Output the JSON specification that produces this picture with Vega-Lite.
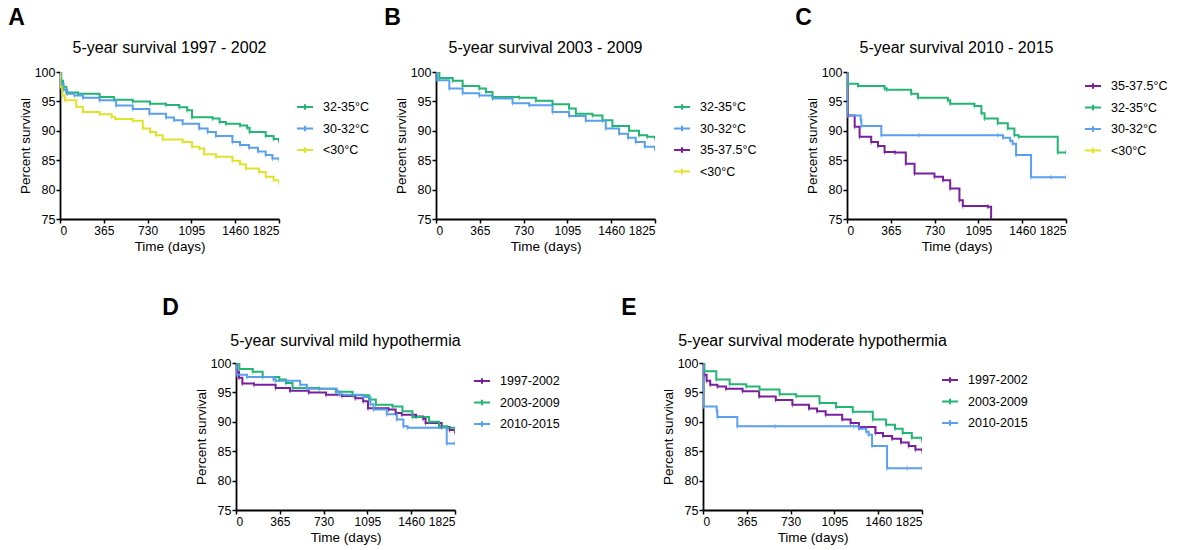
{
  "$schema": "https://vega.github.io/schema/vega-lite/v6.json",
  "padding": {"left": 8, "top": 7, "right": 2, "bottom": 2},
  "background": "white",
  "datasets": {
    "km": [
      {"period": "1997-2002", "group": "32-35°C", "t": 0, "s": 100},
      {"period": "1997-2002", "group": "32-35°C", "t": 10, "s": 98.5},
      {"period": "1997-2002", "group": "32-35°C", "t": 25, "s": 97.5},
      {"period": "1997-2002", "group": "32-35°C", "t": 53, "s": 96.5},
      {"period": "1997-2002", "group": "32-35°C", "t": 150, "s": 96.3},
      {"period": "1997-2002", "group": "32-35°C", "t": 330, "s": 95.75},
      {"period": "1997-2002", "group": "32-35°C", "t": 450, "s": 95.3},
      {"period": "1997-2002", "group": "32-35°C", "t": 606, "s": 95.0},
      {"period": "1997-2002", "group": "32-35°C", "t": 750, "s": 94.6},
      {"period": "1997-2002", "group": "32-35°C", "t": 883, "s": 94.4},
      {"period": "1997-2002", "group": "32-35°C", "t": 994, "s": 94.0},
      {"period": "1997-2002", "group": "32-35°C", "t": 1060, "s": 93.5},
      {"period": "1997-2002", "group": "32-35°C", "t": 1100, "s": 92.3},
      {"period": "1997-2002", "group": "32-35°C", "t": 1271, "s": 92.1},
      {"period": "1997-2002", "group": "32-35°C", "t": 1330, "s": 91.5},
      {"period": "1997-2002", "group": "32-35°C", "t": 1382, "s": 91.2},
      {"period": "1997-2002", "group": "32-35°C", "t": 1500, "s": 90.9},
      {"period": "1997-2002", "group": "32-35°C", "t": 1560, "s": 90.5},
      {"period": "1997-2002", "group": "32-35°C", "t": 1580, "s": 89.8},
      {"period": "1997-2002", "group": "32-35°C", "t": 1714, "s": 89.1},
      {"period": "1997-2002", "group": "32-35°C", "t": 1780, "s": 88.6},
      {"period": "1997-2002", "group": "32-35°C", "t": 1825, "s": 88.1},

      {"period": "1997-2002", "group": "30-32°C", "t": 0, "s": 100},
      {"period": "1997-2002", "group": "30-32°C", "t": 10, "s": 98.0},
      {"period": "1997-2002", "group": "30-32°C", "t": 30, "s": 97.0},
      {"period": "1997-2002", "group": "30-32°C", "t": 60, "s": 96.3},
      {"period": "1997-2002", "group": "30-32°C", "t": 120, "s": 96.0},
      {"period": "1997-2002", "group": "30-32°C", "t": 191, "s": 95.6},
      {"period": "1997-2002", "group": "30-32°C", "t": 330, "s": 95.2},
      {"period": "1997-2002", "group": "30-32°C", "t": 468, "s": 94.3},
      {"period": "1997-2002", "group": "30-32°C", "t": 606, "s": 93.7},
      {"period": "1997-2002", "group": "30-32°C", "t": 745, "s": 92.9},
      {"period": "1997-2002", "group": "30-32°C", "t": 883, "s": 92.25},
      {"period": "1997-2002", "group": "30-32°C", "t": 950, "s": 91.8},
      {"period": "1997-2002", "group": "30-32°C", "t": 1022, "s": 91.2},
      {"period": "1997-2002", "group": "30-32°C", "t": 1160, "s": 90.4},
      {"period": "1997-2002", "group": "30-32°C", "t": 1230, "s": 89.8},
      {"period": "1997-2002", "group": "30-32°C", "t": 1299, "s": 89.1},
      {"period": "1997-2002", "group": "30-32°C", "t": 1437, "s": 88.1},
      {"period": "1997-2002", "group": "30-32°C", "t": 1500, "s": 87.6},
      {"period": "1997-2002", "group": "30-32°C", "t": 1576, "s": 87.1},
      {"period": "1997-2002", "group": "30-32°C", "t": 1650, "s": 86.5},
      {"period": "1997-2002", "group": "30-32°C", "t": 1714, "s": 85.9},
      {"period": "1997-2002", "group": "30-32°C", "t": 1770, "s": 85.3},
      {"period": "1997-2002", "group": "30-32°C", "t": 1825, "s": 85.0},

      {"period": "1997-2002", "group": "<30°C", "t": 0, "s": 100},
      {"period": "1997-2002", "group": "<30°C", "t": 2, "s": 97.5},
      {"period": "1997-2002", "group": "<30°C", "t": 20, "s": 96.0},
      {"period": "1997-2002", "group": "<30°C", "t": 40, "s": 95.2},
      {"period": "1997-2002", "group": "<30°C", "t": 136, "s": 94.1},
      {"period": "1997-2002", "group": "<30°C", "t": 191, "s": 93.2},
      {"period": "1997-2002", "group": "<30°C", "t": 330, "s": 92.8},
      {"period": "1997-2002", "group": "<30°C", "t": 430, "s": 92.4},
      {"period": "1997-2002", "group": "<30°C", "t": 460, "s": 92.0},
      {"period": "1997-2002", "group": "<30°C", "t": 606, "s": 91.7},
      {"period": "1997-2002", "group": "<30°C", "t": 690, "s": 90.4},
      {"period": "1997-2002", "group": "<30°C", "t": 750, "s": 89.8},
      {"period": "1997-2002", "group": "<30°C", "t": 800, "s": 89.25},
      {"period": "1997-2002", "group": "<30°C", "t": 856, "s": 88.5},
      {"period": "1997-2002", "group": "<30°C", "t": 1022, "s": 88.1},
      {"period": "1997-2002", "group": "<30°C", "t": 1100, "s": 87.3},
      {"period": "1997-2002", "group": "<30°C", "t": 1160, "s": 87.0},
      {"period": "1997-2002", "group": "<30°C", "t": 1202, "s": 86.0},
      {"period": "1997-2002", "group": "<30°C", "t": 1300, "s": 85.6},
      {"period": "1997-2002", "group": "<30°C", "t": 1437, "s": 84.9},
      {"period": "1997-2002", "group": "<30°C", "t": 1500, "s": 84.3},
      {"period": "1997-2002", "group": "<30°C", "t": 1548, "s": 83.6},
      {"period": "1997-2002", "group": "<30°C", "t": 1659, "s": 83.0},
      {"period": "1997-2002", "group": "<30°C", "t": 1714, "s": 82.2},
      {"period": "1997-2002", "group": "<30°C", "t": 1780, "s": 81.6},
      {"period": "1997-2002", "group": "<30°C", "t": 1825, "s": 81.0},

      {"period": "2003-2009", "group": "32-35°C", "t": 0, "s": 100},
      {"period": "2003-2009", "group": "32-35°C", "t": 28, "s": 99.0},
      {"period": "2003-2009", "group": "32-35°C", "t": 139, "s": 98.5},
      {"period": "2003-2009", "group": "32-35°C", "t": 222, "s": 97.6},
      {"period": "2003-2009", "group": "32-35°C", "t": 361, "s": 97.2},
      {"period": "2003-2009", "group": "32-35°C", "t": 416, "s": 96.6},
      {"period": "2003-2009", "group": "32-35°C", "t": 471, "s": 95.75},
      {"period": "2003-2009", "group": "32-35°C", "t": 693, "s": 95.6},
      {"period": "2003-2009", "group": "32-35°C", "t": 832, "s": 95.1},
      {"period": "2003-2009", "group": "32-35°C", "t": 971, "s": 94.5},
      {"period": "2003-2009", "group": "32-35°C", "t": 1109, "s": 93.8},
      {"period": "2003-2009", "group": "32-35°C", "t": 1165, "s": 92.9},
      {"period": "2003-2009", "group": "32-35°C", "t": 1304, "s": 92.6},
      {"period": "2003-2009", "group": "32-35°C", "t": 1387, "s": 91.8},
      {"period": "2003-2009", "group": "32-35°C", "t": 1470, "s": 90.8},
      {"period": "2003-2009", "group": "32-35°C", "t": 1609, "s": 90.0},
      {"period": "2003-2009", "group": "32-35°C", "t": 1692, "s": 89.25},
      {"period": "2003-2009", "group": "32-35°C", "t": 1760, "s": 89.0},
      {"period": "2003-2009", "group": "32-35°C", "t": 1825, "s": 88.6},

      {"period": "2003-2009", "group": "30-32°C", "t": 0, "s": 100},
      {"period": "2003-2009", "group": "30-32°C", "t": 10, "s": 98.6},
      {"period": "2003-2009", "group": "30-32°C", "t": 111, "s": 97.2},
      {"period": "2003-2009", "group": "30-32°C", "t": 222, "s": 96.4},
      {"period": "2003-2009", "group": "30-32°C", "t": 361, "s": 96.0},
      {"period": "2003-2009", "group": "30-32°C", "t": 471, "s": 95.5},
      {"period": "2003-2009", "group": "30-32°C", "t": 638, "s": 94.7},
      {"period": "2003-2009", "group": "30-32°C", "t": 777, "s": 94.35},
      {"period": "2003-2009", "group": "30-32°C", "t": 971, "s": 93.2},
      {"period": "2003-2009", "group": "30-32°C", "t": 1109, "s": 92.5},
      {"period": "2003-2009", "group": "30-32°C", "t": 1248, "s": 91.7},
      {"period": "2003-2009", "group": "30-32°C", "t": 1415, "s": 90.4},
      {"period": "2003-2009", "group": "30-32°C", "t": 1526, "s": 89.5},
      {"period": "2003-2009", "group": "30-32°C", "t": 1600, "s": 88.8},
      {"period": "2003-2009", "group": "30-32°C", "t": 1664, "s": 88.1},
      {"period": "2003-2009", "group": "30-32°C", "t": 1740, "s": 87.3},
      {"period": "2003-2009", "group": "30-32°C", "t": 1825, "s": 86.7},

      {"period": "2010-2015", "group": "35-37.5°C", "t": 0, "s": 100},
      {"period": "2010-2015", "group": "35-37.5°C", "t": 8, "s": 92.6},
      {"period": "2010-2015", "group": "35-37.5°C", "t": 64, "s": 90.7},
      {"period": "2010-2015", "group": "35-37.5°C", "t": 105, "s": 89.0},
      {"period": "2010-2015", "group": "35-37.5°C", "t": 202, "s": 88.1},
      {"period": "2010-2015", "group": "35-37.5°C", "t": 258, "s": 87.4},
      {"period": "2010-2015", "group": "35-37.5°C", "t": 313, "s": 86.4},
      {"period": "2010-2015", "group": "35-37.5°C", "t": 400, "s": 86.3},
      {"period": "2010-2015", "group": "35-37.5°C", "t": 490, "s": 84.4},
      {"period": "2010-2015", "group": "35-37.5°C", "t": 563, "s": 82.75},
      {"period": "2010-2015", "group": "35-37.5°C", "t": 729, "s": 82.2},
      {"period": "2010-2015", "group": "35-37.5°C", "t": 800, "s": 81.6},
      {"period": "2010-2015", "group": "35-37.5°C", "t": 860, "s": 80.2},
      {"period": "2010-2015", "group": "35-37.5°C", "t": 937, "s": 78.2},
      {"period": "2010-2015", "group": "35-37.5°C", "t": 965, "s": 77.2},
      {"period": "2010-2015", "group": "35-37.5°C", "t": 1173, "s": 77.1},
      {"period": "2010-2015", "group": "35-37.5°C", "t": 1201, "s": 75.0},

      {"period": "2010-2015", "group": "32-35°C", "t": 0, "s": 100},
      {"period": "2010-2015", "group": "32-35°C", "t": 5, "s": 98.0},
      {"period": "2010-2015", "group": "32-35°C", "t": 92, "s": 97.6},
      {"period": "2010-2015", "group": "32-35°C", "t": 313, "s": 97.2},
      {"period": "2010-2015", "group": "32-35°C", "t": 330, "s": 97.0},
      {"period": "2010-2015", "group": "32-35°C", "t": 535, "s": 96.3},
      {"period": "2010-2015", "group": "32-35°C", "t": 591, "s": 95.6},
      {"period": "2010-2015", "group": "32-35°C", "t": 840, "s": 95.2},
      {"period": "2010-2015", "group": "32-35°C", "t": 860, "s": 94.6},
      {"period": "2010-2015", "group": "32-35°C", "t": 1062, "s": 94.2},
      {"period": "2010-2015", "group": "32-35°C", "t": 1120, "s": 93.0},
      {"period": "2010-2015", "group": "32-35°C", "t": 1146, "s": 92.1},
      {"period": "2010-2015", "group": "32-35°C", "t": 1256, "s": 91.3},
      {"period": "2010-2015", "group": "32-35°C", "t": 1340, "s": 90.4},
      {"period": "2010-2015", "group": "32-35°C", "t": 1395, "s": 89.25},
      {"period": "2010-2015", "group": "32-35°C", "t": 1430, "s": 89.0},
      {"period": "2010-2015", "group": "32-35°C", "t": 1756, "s": 86.3},
      {"period": "2010-2015", "group": "32-35°C", "t": 1825, "s": 86.4},

      {"period": "2010-2015", "group": "30-32°C", "t": 0, "s": 100},
      {"period": "2010-2015", "group": "30-32°C", "t": 5, "s": 92.6},
      {"period": "2010-2015", "group": "30-32°C", "t": 114, "s": 91.9},
      {"period": "2010-2015", "group": "30-32°C", "t": 120, "s": 90.8},
      {"period": "2010-2015", "group": "30-32°C", "t": 286, "s": 89.25},
      {"period": "2010-2015", "group": "30-32°C", "t": 600, "s": 89.25},
      {"period": "2010-2015", "group": "30-32°C", "t": 1256, "s": 89.25},
      {"period": "2010-2015", "group": "30-32°C", "t": 1300, "s": 88.8},
      {"period": "2010-2015", "group": "30-32°C", "t": 1360, "s": 88.3},
      {"period": "2010-2015", "group": "30-32°C", "t": 1380, "s": 87.8},
      {"period": "2010-2015", "group": "30-32°C", "t": 1409, "s": 85.9},
      {"period": "2010-2015", "group": "30-32°C", "t": 1534, "s": 82.1},
      {"period": "2010-2015", "group": "30-32°C", "t": 1700, "s": 82.1},
      {"period": "2010-2015", "group": "30-32°C", "t": 1825, "s": 82.1}
    ]
  },
  "config": {
    "font": "Liberation Sans",
    "view": {"stroke": null},
    "axis": {
      "grid": false, "domainColor": "black", "domainWidth": 1.8, "tickColor": "black",
      "tickWidth": 1.5, "tickSize": 4, "labelColor": "black", "labelFontSize": 12,
      "titleFontSize": 13.5, "titleFontWeight": "normal", "titleColor": "black",
      "labelFont": "Liberation Sans", "titleFont": "Liberation Sans", "labelPadding": 2
    },
    "axisY": {"labelFontSize": 12.5, "titlePadding": 2, "labelPadding": 1},
    "axisX": {"titlePadding": 3},
    "title": {"fontWeight": "normal", "fontSize": 16, "color": "black", "font": "Liberation Sans"},
    "legend": {
      "orient": "none", "title": null, "symbolType": "M-1,0H1M0,-0.35V0.35", "symbolSize": 256,
      "symbolStrokeWidth": 2, "labelFontSize": 12.5, "labelColor": "black",
      "labelFont": "Liberation Sans", "rowPadding": 5.5, "labelOffset": 9
    }
  },
  "spacing": 44,
  "center": true,
  "resolve": {"scale": {"color": "independent"}, "legend": {"color": "independent"}},
  "vconcat": [
    {
      "spacing": 15,
      "resolve": {"scale": {"color": "independent"}, "legend": {"color": "independent"}},
      "hconcat": [
        {
          "title": {"text": "A", "anchor": "start", "fontSize": 23, "fontWeight": "bold", "dx": -10, "offset": 10},
          "vconcat": [{
            "title": {"text": "5-year survival 1997 - 2002", "anchor": "middle", "frame": "group", "offset": 10},
            "width": 219, "height": 147,
            "data": {"name": "km"},
            "transform": [{"filter": "datum.period == '1997-2002'"}],
            "encoding": {
              "x": {"field": "t", "type": "quantitative", "scale": {"domain": [0, 1825], "nice": false, "zero": false}, "axis": {"values": [0, 365, 730, 1095, 1460, 1825], "format": "d", "title": "Time (days)"}},
              "y": {"field": "s", "type": "quantitative", "scale": {"domain": [75, 100], "nice": false, "zero": false}, "axis": {"values": [75, 80, 85, 90, 95, 100], "title": "Percent survival"}},
              "color": {"field": "group", "type": "nominal", "scale": {"domain": ["32-35°C", "30-32°C", "<30°C"], "range": ["#22b573", "#5a9ff0", "#e2e22a"]}, "legend": {"legendX": 236, "legendY": 26}}
            },
            "layer": [
              {"mark": {"type": "line", "interpolate": "step-after", "strokeWidth": 2, "clip": true}},
              {"mark": {"type": "tick", "orient": "vertical", "size": 5, "thickness": 1, "clip": true}, "encoding": {"color": {"field": "group", "type": "nominal", "legend": null}}}
            ]
          }]
        },
        {
          "title": {"text": "B", "anchor": "start", "fontSize": 23, "fontWeight": "bold", "dx": -10, "offset": 10},
          "vconcat": [{
            "title": {"text": "5-year survival 2003 - 2009", "anchor": "middle", "frame": "group", "offset": 10},
            "width": 219, "height": 147,
            "data": {"name": "km"},
            "transform": [{"filter": "datum.period == '2003-2009'"}],
            "encoding": {
              "x": {"field": "t", "type": "quantitative", "scale": {"domain": [0, 1825], "nice": false, "zero": false}, "axis": {"values": [0, 365, 730, 1095, 1460, 1825], "format": "d", "title": "Time (days)"}},
              "y": {"field": "s", "type": "quantitative", "scale": {"domain": [75, 100], "nice": false, "zero": false}, "axis": {"values": [75, 80, 85, 90, 95, 100], "title": "Percent survival"}},
              "color": {"field": "group", "type": "nominal", "scale": {"domain": ["32-35°C", "30-32°C", "35-37.5°C", "<30°C"], "range": ["#22b573", "#5a9ff0", "#7a1f9e", "#e2e22a"]}, "legend": {"legendX": 214, "legendY": 3, "padding": 23}}
            },
            "layer": [
              {"mark": {"type": "line", "interpolate": "step-after", "strokeWidth": 2, "clip": true}},
              {"mark": {"type": "tick", "orient": "vertical", "size": 5, "thickness": 1, "clip": true}, "encoding": {"color": {"field": "group", "type": "nominal", "legend": null}}}
            ]
          }]
        },
        {
          "title": {"text": "C", "anchor": "start", "fontSize": 23, "fontWeight": "bold", "dx": -10, "offset": 10},
          "vconcat": [{
            "title": {"text": "5-year survival 2010 - 2015", "anchor": "middle", "frame": "group", "offset": 10},
            "width": 219, "height": 147,
            "data": {"name": "km"},
            "transform": [{"filter": "datum.period == '2010-2015'"}],
            "encoding": {
              "x": {"field": "t", "type": "quantitative", "scale": {"domain": [0, 1825], "nice": false, "zero": false}, "axis": {"values": [0, 365, 730, 1095, 1460, 1825], "format": "d", "title": "Time (days)"}},
              "y": {"field": "s", "type": "quantitative", "scale": {"domain": [75, 100], "nice": false, "zero": false}, "axis": {"values": [75, 80, 85, 90, 95, 100], "title": "Percent survival"}},
              "color": {"field": "group", "type": "nominal", "scale": {"domain": ["35-37.5°C", "32-35°C", "30-32°C", "<30°C"], "range": ["#7a1f9e", "#22b573", "#5a9ff0", "#e2e22a"]}, "legend": {"legendX": 201, "legendY": -31, "padding": 36}}
            },
            "layer": [
              {"mark": {"type": "line", "interpolate": "step-after", "strokeWidth": 2, "clip": true}},
              {"mark": {"type": "tick", "orient": "vertical", "size": 5, "thickness": 1, "clip": true}, "encoding": {"color": {"field": "group", "type": "nominal", "legend": null}}}
            ]
          }]
        }
      ]
    },
    {
      "spacing": 61,
      "resolve": {"scale": {"color": "independent"}, "legend": {"color": "independent"}},
      "hconcat": [
        {
          "title": {"text": "D", "anchor": "start", "fontSize": 23, "fontWeight": "bold", "dx": -32, "offset": 13},
          "vconcat": [{
            "title": {"text": "5-year survival mild hypothermia", "anchor": "middle", "frame": "group", "offset": 8},
            "width": 219, "height": 147,
            "data": {"name": "km"},
            "transform": [{"filter": "datum.group == '32-35°C'"}],
            "encoding": {
              "x": {"field": "t", "type": "quantitative", "scale": {"domain": [0, 1825], "nice": false, "zero": false}, "axis": {"values": [0, 365, 730, 1095, 1460, 1825], "format": "d", "title": "Time (days)"}},
              "y": {"field": "s", "type": "quantitative", "scale": {"domain": [75, 100], "nice": false, "zero": false}, "axis": {"values": [75, 80, 85, 90, 95, 100], "title": "Percent survival"}},
              "color": {"field": "period", "type": "nominal", "scale": {"domain": ["1997-2002", "2003-2009", "2010-2015"], "range": ["#7a1f9e", "#22b573", "#5a9ff0"]}, "legend": {"legendX": 237, "legendY": 9}}
            },
            "layer": [
              {"mark": {"type": "line", "interpolate": "step-after", "strokeWidth": 2, "clip": true}},
              {"mark": {"type": "tick", "orient": "vertical", "size": 5, "thickness": 1, "clip": true}, "encoding": {"color": {"field": "period", "type": "nominal", "legend": null}}}
            ]
          }]
        },
        {
          "title": {"text": "E", "anchor": "start", "fontSize": 23, "fontWeight": "bold", "dx": -40, "offset": 13},
          "vconcat": [{
            "title": {"text": "5-year survival moderate hypothermia", "anchor": "middle", "frame": "group", "offset": 8},
            "width": 219, "height": 147,
            "data": {"name": "km"},
            "transform": [{"filter": "datum.group == '30-32°C'"}],
            "encoding": {
              "x": {"field": "t", "type": "quantitative", "scale": {"domain": [0, 1825], "nice": false, "zero": false}, "axis": {"values": [0, 365, 730, 1095, 1460, 1825], "format": "d", "title": "Time (days)"}},
              "y": {"field": "s", "type": "quantitative", "scale": {"domain": [75, 100], "nice": false, "zero": false}, "axis": {"values": [75, 80, 85, 90, 95, 100], "title": "Percent survival"}},
              "color": {"field": "period", "type": "nominal", "scale": {"domain": ["1997-2002", "2003-2009", "2010-2015"], "range": ["#7a1f9e", "#22b573", "#5a9ff0"]}, "legend": {"legendX": 238, "legendY": 8}}
            },
            "layer": [
              {"mark": {"type": "line", "interpolate": "step-after", "strokeWidth": 2, "clip": true}},
              {"mark": {"type": "tick", "orient": "vertical", "size": 5, "thickness": 1, "clip": true}, "encoding": {"color": {"field": "period", "type": "nominal", "legend": null}}}
            ]
          }]
        }
      ]
    }
  ]
}
